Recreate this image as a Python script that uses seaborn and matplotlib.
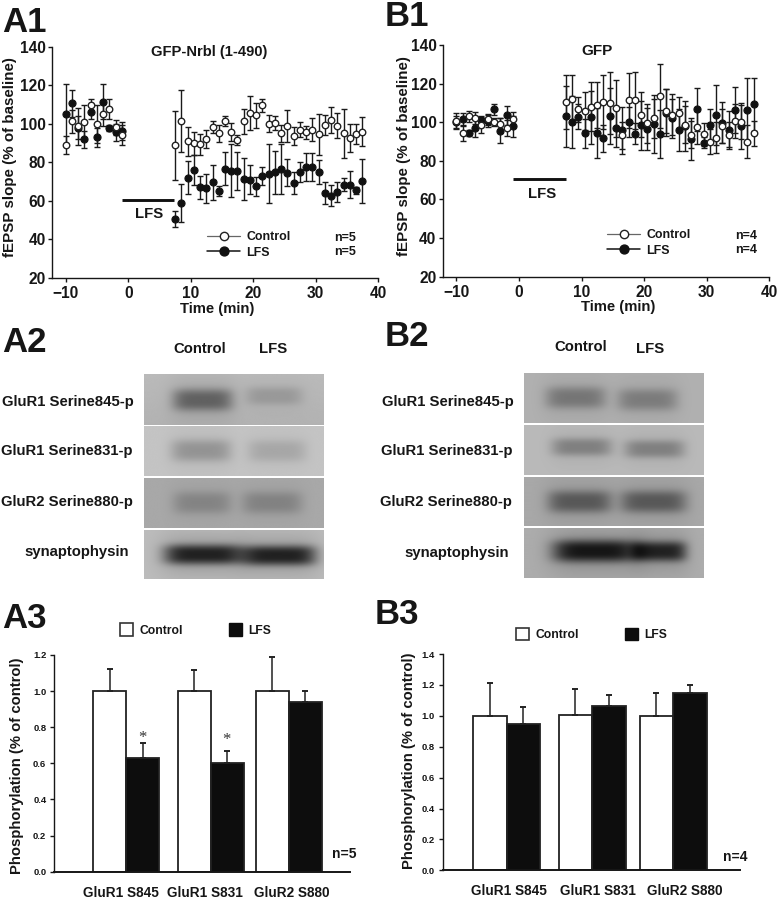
import numpy as np
import pandas as pd
import matplotlib
matplotlib.use("Agg")
import matplotlib.pyplot as plt
from matplotlib.lines import Line2D
from matplotlib.patches import Patch
import seaborn as sns

W, H = 781, 899
sns.set_theme(style="ticks")
plt.rcParams["font.family"] = ["Liberation Sans", "DejaVu Sans"]
plt.rcParams["font.weight"] = "bold"
INK = "#161616"

# ---- Time axis shared by A1 and B1
time_pre = [-10, -9, -8, -7, -6, -5, -4, -3, -2, -1]
time_post = [7.5, 8.5, 9.5, 10.5, 11.5, 12.5, 13.5, 14.5, 15.5, 16.5, 17.5, 18.5, 19.5, 20.5, 21.5, 22.5,
             23.5, 24.5, 25.5, 26.5, 27.5, 28.5, 29.5, 30.5, 31.5, 32.5, 33.5, 34.5, 35.5, 36.5, 37.5]

# ---- A1
a1_ctrl = [88.9, 101.2, 98.6, 100.8, 109.5, 100, 105, 107.9, 98.2, 94,
           88.9, 101.5, 91, 90, 89.3, 92, 98.2, 95, 101.5, 95.8, 91.5, 101.2, 105.5, 104.5, 109.6, 100,
           100.3, 95, 98.8, 93.7, 97, 95.6, 96.9, 94.6, 99.4, 101.9, 99, 95, 92.7, 94.8, 95.8]
a1_ctrl_err = [4.8, 6, 9.5, 9, 3.6, 9.8, 6, 5.2, 4, 5.2,
               18, 16, 7.5, 6, 5.5, 4.6, 3, 4.6, 2.8, 4.7, 2.5, 6.5, 8.8, 6.5, 3.3, 4.5,
               3.7, 4.6, 8.3, 4.5, 3.7, 3.5, 6, 10.6, 5, 6.8, 6.5, 12.9, 7.2, 5.2, 7.5]
a1_lfs = [105.1, 110.7, 98, 92, 106, 92.9, 111.5, 98, 95.5, 96.3,
          50.7, 59, 72, 76, 67, 66.5, 69.6, 65, 76.8, 75.6, 75.4, 71.5, 71, 67.5, 73, 74.2,
          74.8, 76.7, 74.6, 69.4, 75, 77.5, 77.5, 75, 64.2, 62.8, 64.6, 68.4, 68.5, 65.6, 70.4]
a1_lfs_err = [15.5, 7, 6, 4.3, 3.5, 5, 9.2, 1.5, 4.2, 4.6,
              4, 9.7, 8.5, 8, 6, 7.5, 9, 2.5, 8.6, 13.7, 10, 10.8, 7.4, 5, 4.8, 15.3,
              11.2, 13, 7, 5.8, 5.2, 7.3, 7.2, 6.3, 5.6, 5.4, 5.4, 3.5, 7.2, 1.8, 11.3]

# ---- B1
b1_ctrl = [100.7, 94.3, 103, 102.2, 98.6, 101.5, 100, 99, 96.9, 101.5,
           110.3, 111.8, 106.7, 105.8, 108, 108.9, 110.3, 109.8, 107.2, 93.3, 111.3, 111.3, 104, 99.4, 102, 113.7,
           105.8, 104, 104.6, 98.7, 93.4, 97.3, 93.7, 90, 92, 98, 93.5, 100.6, 100.1, 90, 94.2]
b1_ctrl_err = [4, 4, 3, 3, 4, 3, 2, 3, 4, 3.6,
               14, 12.5, 6.6, 9.7, 12.6, 12, 14, 16, 14.8, 7, 14.4, 14.7, 11.8, 10, 10, 16.6,
               11.5, 10.8, 8.6, 9.5, 7, 8.6, 5.8, 6.5, 8, 8.8, 6.5, 9, 8.7, 8.5, 6.5]
b1_lfs = [100.2, 101.7, 94.6, 97, 101.2, 100.7, 106.7, 95.5, 103.5, 97.8,
          103, 100.3, 102.9, 94.2, 102.5, 94.6, 91.8, 103.2, 97.2, 95.8, 100, 94, 98.4, 96.5, 99.2, 93.9,
          105, 102, 96, 98, 91.3, 106.7, 89.4, 98.5, 103.7, 99.8, 96, 106.3, 98, 106.3, 109.2]
b1_lfs_err = [3, 3, 1.5, 4.5, 2, 3, 3, 6.5, 5, 5.5,
              15.8, 13.5, 6.5, 7.6, 13.6, 13, 7, 14.7, 10, 12, 7.9, 5.5, 12.8, 11, 15, 12.4,
              12, 10, 11, 13, 10.7, 11, 2.8, 8.5, 15.5, 10.6, 10, 12, 12, 16.4, 13.8]

# ---- Bars
bar_labels = ["GluR1 S845", "GluR1 S831", "GluR2 S880"]
a3_ctrl = [1.0, 1.0, 1.0]
a3_ctrl_top = [1.12, 1.115, 1.19]
a3_lfs = [0.63, 0.60, 0.94]
a3_lfs_top = [0.71, 0.67, 1.0]
b3_ctrl = [1.0, 1.005, 1.0]
b3_ctrl_top = [1.215, 1.175, 1.145]
b3_lfs = [0.95, 1.065, 1.15]
b3_lfs_top = [1.055, 1.135, 1.2]

blot_labels = ["GluR1 Serine845-p", "GluR1 Serine831-p", "GluR2 Serine880-p", "synaptophysin"]

fig = plt.figure(figsize=(W / 100, H / 100), dpi=100, facecolor="white")


def fx(x):
    return x / W


def fy(y):
    return 1 - y / H


def axes_px(l, t, r, b):
    return fig.add_axes([fx(l), fy(b), (r - l) / W, (b - t) / H])


def label(x, y, s, size=10.7, ha="center", **kw):
    fig.text(fx(x), fy(y), s, fontsize=size, ha=ha, va="center", color=kw.pop("color", INK),
             fontweight=kw.pop("fontweight", "bold"), **kw)


def style_axes(ax, tick_size, lw=1.0, tlen=3.0, pad=1.5):
    sns.despine(ax=ax)
    ax.patch.set_alpha(0)
    for s in ("left", "bottom"):
        ax.spines[s].set_linewidth(lw)
        ax.spines[s].set_color(INK)
    ax.tick_params(axis="both", labelsize=tick_size, width=lw, length=tlen, color=INK, labelcolor=INK, pad=pad)
    for t in ax.get_xticklabels() + ax.get_yticklabels():
        t.set_fontweight("bold")


def timecourse(box, ctrl, ctrl_err, lfs, lfs_err):
    ax = axes_px(*box)
    t = time_pre + time_post
    for vals, errs in ((lfs, lfs_err), (ctrl, ctrl_err)):
        ax.errorbar(t, vals, yerr=errs, fmt="none", ecolor="#1a1a1a", elinewidth=1.0,
                    capsize=2.3, capthick=1.0, zorder=2)
    df = pd.DataFrame({"t": t * 2, "v": list(lfs) + list(ctrl),
                       "group": ["LFS"] * len(t) + ["Control"] * len(t)})
    sns.scatterplot(data=df[df.group == "LFS"], x="t", y="v", ax=ax, color="#111111", s=26,
                    edgecolor="#111111", linewidth=0.8, legend=False, zorder=3)
    sns.scatterplot(data=df[df.group == "Control"], x="t", y="v", ax=ax, color="white", s=22,
                    edgecolor="#222222", linewidth=1.0, legend=False, zorder=4)
    ax.set_xlim(-12.2, 40)
    ax.set_ylim(20, 140)
    ax.set_xticks([-10, 0, 10, 20, 30, 40])
    ax.set_yticks(range(20, 141, 20))
    ax.set_xlabel("")
    ax.set_ylabel("")
    style_axes(ax, 11.2)
    ax.tick_params(axis="x", pad=3)
    return ax


def line_legend(ax, xpx, ypx):
    handles = [
        Line2D([], [], color="#666666", lw=0.9, marker="o", ms=6, mfc="white", mec="#222222", mew=1.0),
        Line2D([], [], color="#111111", lw=1.1, marker="o", ms=6.4, mfc="#111111", mec="#111111"),
    ]
    leg = ax.legend(handles, ["Control", "LFS"], loc="upper left",
                    bbox_to_anchor=(fx(xpx), fy(ypx)), bbox_transform=fig.transFigure, frameon=False,
                    prop={"size": 8.9, "weight": "bold"}, handlelength=2.7, handletextpad=0.5,
                    labelspacing=0.25, borderpad=0, borderaxespad=0)
    for t in leg.get_texts():
        t.set_color(INK)


# ----- A1
ax = timecourse((52, 46.7, 378, 278), a1_ctrl, a1_ctrl_err, a1_lfs, a1_lfs_err)
ax.plot([-1.0, 7.4], [60.6, 60.6], color="#111111", lw=2.1, solid_capstyle="butt")
line_legend(ax, 207, 231.5)
label(148.7, 214, "LFS", 10.7)
label(208.7, 51.7, "GFP-Nrbl (1-490)", 10.6)
label(217, 308.7, "Time (min)", 10.7)
label(10, 156.7, "fEPSP slope (% of baseline)", 10.9, rotation=90)
label(345.5, 238, "n=5", 9)
label(345.5, 252, "n=5", 9)

# ----- B1
ax = timecourse((442.7, 45, 769.3, 276.7), b1_ctrl, b1_ctrl_err, b1_lfs, b1_lfs_err)
ax.plot([-0.9, 7.5], [70.5, 70.5], color="#111111", lw=2.1, solid_capstyle="butt")
line_legend(ax, 607, 229.5)
label(541.7, 194, "LFS", 10.7)
label(597.3, 51, "GFP", 11)
label(617.7, 307.3, "Time (min)", 10.7)
label(404, 155.7, "fEPSP slope (% of baseline)", 10.9, rotation=90)
label(746.5, 236, "n=4", 9)
label(746.5, 250, "n=4", 9)


# ----- Blots
def blot(box, bg, bands, gradient=0.0):
    l, t, r, b = box
    ax = axes_px(l, t, r, b)
    xs = np.linspace(l, r, int(r - l) * 2)
    ys = np.linspace(t, b, int(b - t) * 2)
    X, Y = np.meshgrid(xs, ys)
    img = np.full_like(X, bg, dtype=float) + gradient * (Y - (t + b) / 2) / (b - t)
    for cx, hw, cy, hh, depth in bands:
        across = np.exp(-np.abs((X - cx) / hw) ** 5)
        down = np.exp(-np.abs((Y - cy) / hh) ** 3)
        halo = np.exp(-np.abs((X - cx) / (hw * 1.12)) ** 4) * np.exp(-((Y - cy) / (hh * 2.2)) ** 2)
        img -= depth * (0.8 * across * down + 0.2 * halo)
    ax.imshow(img, cmap="gray", vmin=0, vmax=255, aspect="auto", extent=(l, r, b, t), interpolation="bilinear")
    ax.axis("off")


blot((144, 374.3, 323.7, 425), 182, [(202.6, 30, 400, 11, 85), (274, 28, 396, 9, 30)], -8)
blot((144, 426.3, 323.7, 476), 196, [(201, 30, 450.7, 11, 48), (277, 29, 451, 11, 29)])
blot((144, 477.7, 323.7, 528), 168, [(202, 29, 503, 11, 36), (272, 30, 503, 11, 38)])
blot((144, 529.7, 323.7, 579.3), 188, [(203, 39, 555, 10, 155), (279, 37, 556, 10, 155)])

blot((524.3, 373.3, 704.3, 423.3), 176, [(576, 30, 398, 11, 58), (648, 30, 400, 11, 52)])
blot((524.3, 425, 704.3, 475), 186, [(582, 30, 447, 9, 58), (655, 30, 449, 9, 58)])
blot((524.3, 476.7, 704.3, 526), 168, [(580, 32, 502, 11, 80), (654, 33, 502, 11, 80)])
blot((524.3, 528, 704.3, 578.3), 172, [(595, 42, 551.7, 11, 150), (660, 27, 552, 10, 138)])

for s, cx, cy in zip(blot_labels, [68, 67, 67, 76.7], [402, 451, 501.7, 552]):
    label(cx, cy, s, 10.7)
for s, cx, cy in zip(blot_labels, [448.3, 446.7, 446.3, 456.7], [401.7, 451, 502, 552.7]):
    label(cx, cy, s, 10.7)
label(200, 349, "Control", 10.7)
label(273, 349, "LFS", 10.7)
label(581, 347, "Control", 10.7)
label(650, 349, "LFS", 10.7)


# ----- Bars
def bars(box, centers, bar_w, ctrl, ctrl_top, lfs, lfs_top, ymax, label_x):
    ax = axes_px(*box)
    rows = []
    for c, a, b in zip(centers, ctrl, lfs):
        rows.append({"x": c, "v": a, "group": "Control"})
        rows.append({"x": c, "v": b, "group": "LFS"})
    df = pd.DataFrame(rows)
    spacing = np.min(np.diff(centers))
    sns.barplot(data=df, x="x", y="v", hue="group", hue_order=["Control", "LFS"], native_scale=True,
                palette={"Control": "white", "LFS": "#0d0d0d"}, saturation=1, width=2 * bar_w / spacing,
                edgecolor="#222222", linewidth=1.3, errorbar=None, legend=False, ax=ax, gap=0)
    for c, a, at, b, bt in zip(centers, ctrl, ctrl_top, lfs, lfs_top):
        ax.errorbar([c - bar_w / 2, c + bar_w / 2], [a, b], yerr=[[0, 0], [at - a, bt - b]], fmt="none",
                    ecolor="#222222", elinewidth=1.1, capsize=2.2, capthick=1.4, zorder=1)
    ax.set_xlim(box[0], box[2])
    ax.set_ylim(0, ymax)
    ax.set_yticks(np.arange(0, ymax + 0.01, 0.2))
    ax.set_yticklabels([f"{v:.1f}" for v in np.arange(0, ymax + 0.01, 0.2)])
    ax.set_xticks(label_x)
    ax.set_xticklabels(bar_labels)
    ax.set_xlabel("")
    ax.set_ylabel("")
    style_axes(ax, 6.8, lw=1.0, tlen=3.0, pad=2.5)
    ax.spines["bottom"].set_linewidth(1.4)
    ax.tick_params(axis="x", length=0, labelsize=9.8, pad=10)
    return ax


def patch_legend(ax, xpx, ycpx):
    leg = ax.legend([Patch(fc="white", ec="#333333", lw=1.2), Patch(fc="#0d0d0d", ec="#0d0d0d")],
                    ["Control", "LFS"], ncols=2, loc="center left", bbox_to_anchor=(fx(xpx), fy(ycpx)),
                    bbox_transform=fig.transFigure, frameon=False, prop={"size": 8.7, "weight": "bold"},
                    handlelength=1.08, handleheight=1.17, handletextpad=0.55, columnspacing=3.75,
                    borderpad=0, borderaxespad=0)
    for t in leg.get_texts():
        t.set_color(INK)


ax = bars((54, 655, 350, 871.7), [126, 210.5, 288.5], 33, a3_ctrl, a3_ctrl_top, a3_lfs, a3_lfs_top, 1.2,
          [120.5, 204.5, 291.5])
patch_legend(ax, 120, 630)
ax = bars((442.5, 654, 740, 870.3), [506.5, 592, 673], 33.5, b3_ctrl, b3_ctrl_top, b3_lfs, b3_lfs_top, 1.4,
          [508.5, 598, 685])
patch_legend(ax, 516, 634.5)
label(17.5, 766, "Phosphorylation (% of control)", 10.7, rotation=90)
label(409, 761, "Phosphorylation (% of control)", 10.7, rotation=90)
label(344, 854, "n=5", 10)
label(735, 857, "n=4", 10)
for xp, yp in ((142.5, 738), (226.5, 740)):
    label(xp, yp, "*", 12, family="Liberation Serif", fontweight="normal", color="#333333")

# ----- Panel letters
for s, x, y in (("A1", 2, 22), ("B1", 385, 17), ("A2", 2, 342), ("B2", 385, 337), ("A3", 2, 618), ("B3", 375, 614)):
    label(x, y, s, 25, ha="left")

fig.savefig("out.png", dpi=100, facecolor="white")
